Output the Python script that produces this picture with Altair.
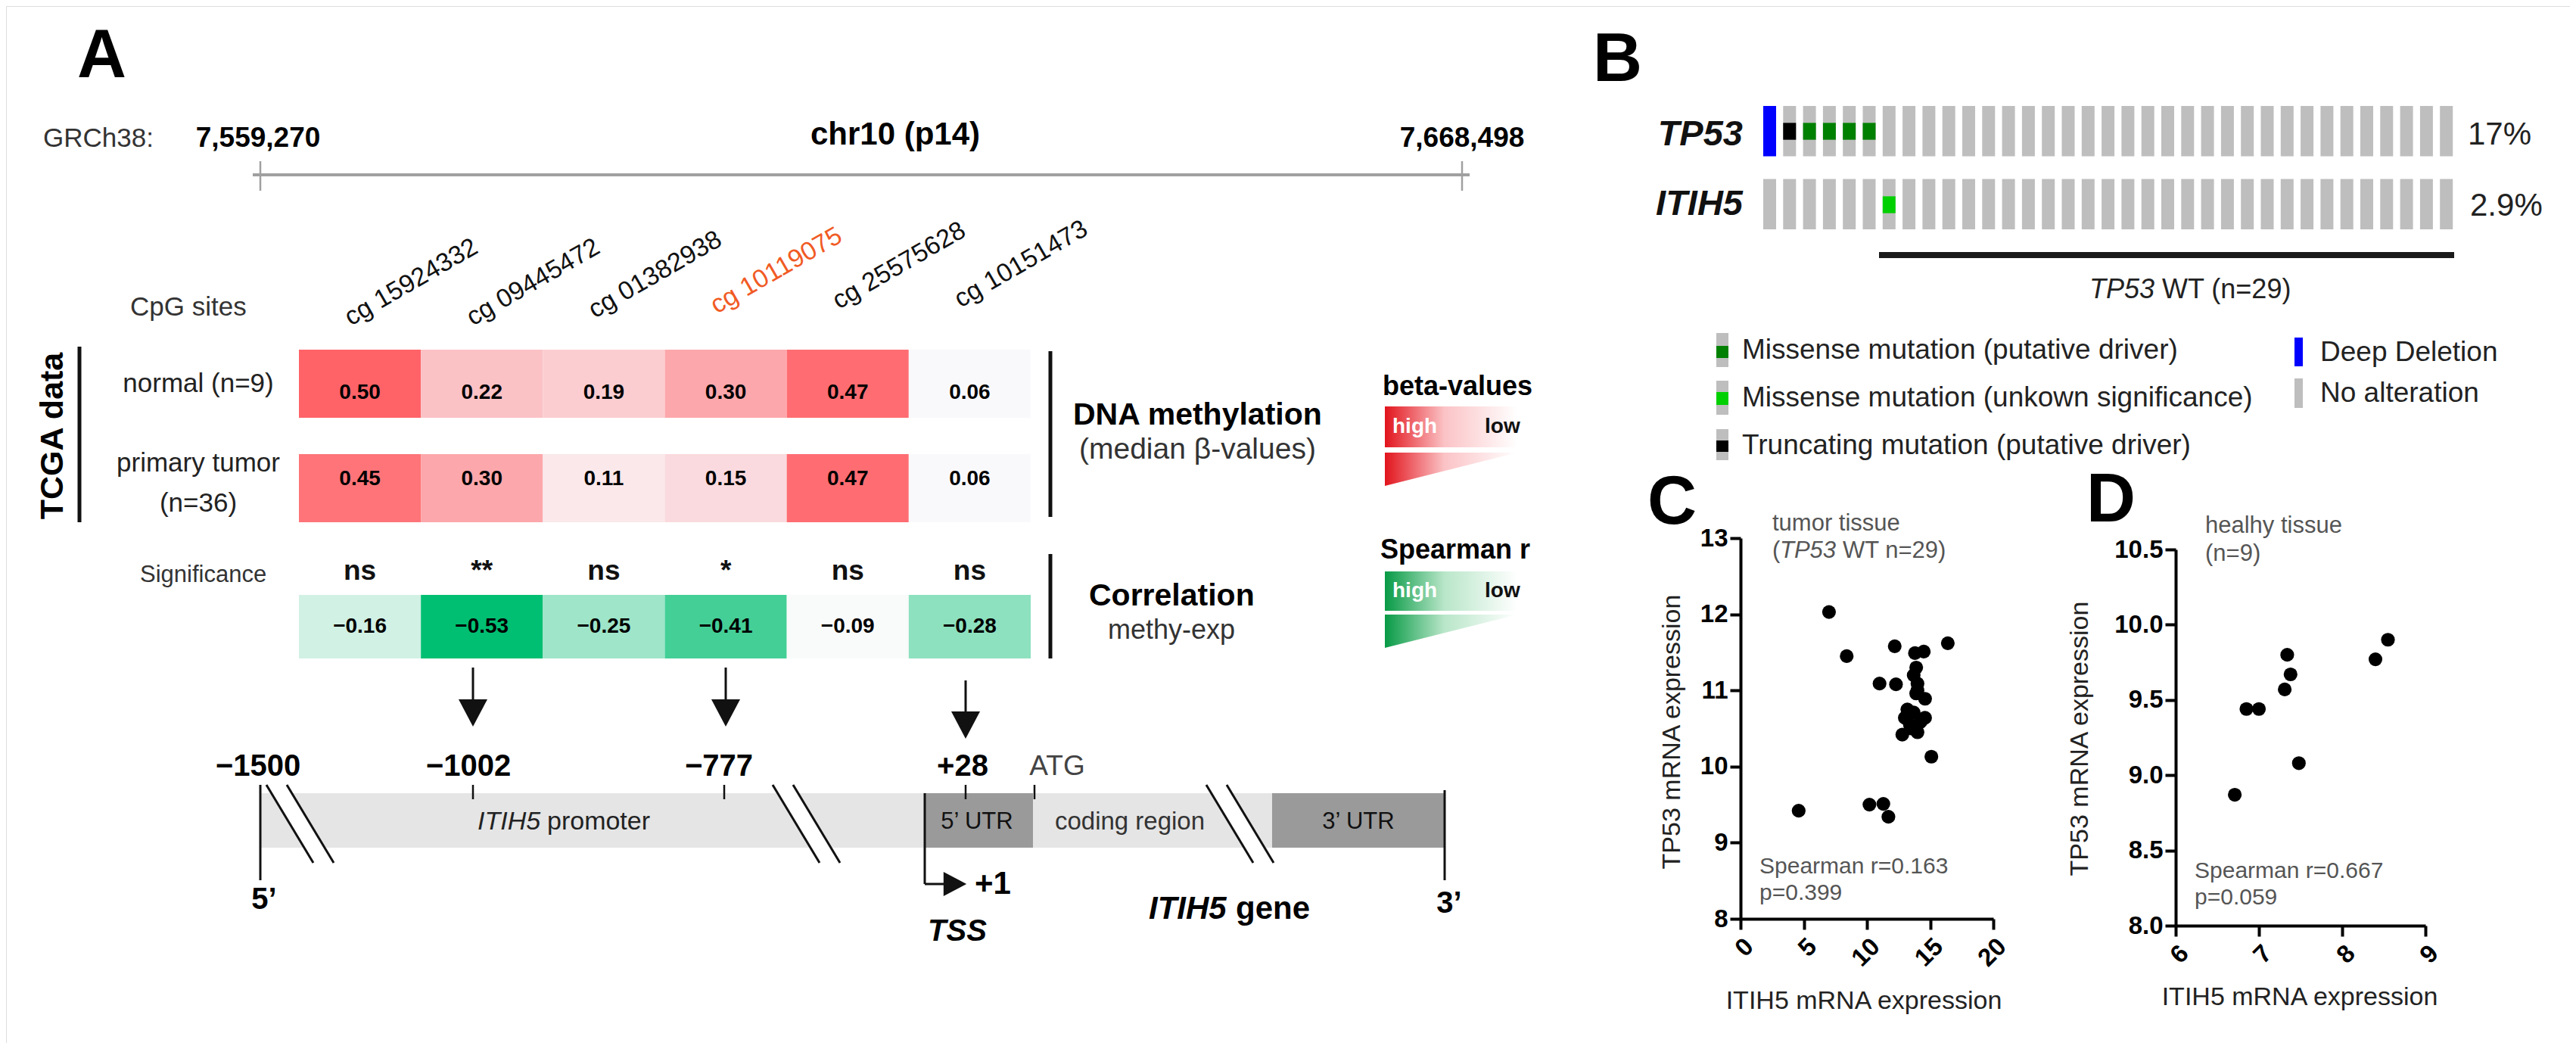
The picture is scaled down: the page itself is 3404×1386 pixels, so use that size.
import altair as alt
import pandas as pd

FONT = "Liberation Sans, Arial, Helvetica, sans-serif"
FULL_W, FULL_H = 3404, 1386
M = 8
W, H = FULL_W - 2 * M, FULL_H - 2 * M

# ------------------------------------------------------------------ data
sites = ["cg 15924332", "cg 09445472", "cg 01382938", "cg 10119075", "cg 25575628", "cg 10151473"]
highlighted_site = "cg 10119075"
beta_normal = [0.50, 0.22, 0.19, 0.30, 0.47, 0.06]
beta_tumor = [0.45, 0.30, 0.11, 0.15, 0.47, 0.06]
spearman_methy_exp = [-0.16, -0.53, -0.25, -0.41, -0.09, -0.28]
significance = ["ns", "**", "ns", "*", "ns", "ns"]
tcga_rows = ["normal (n=9)", "primary tumor (n=36)"]
promoter_positions = ["−1500", "−1002", "−777", "+28"]

onco_genes = ["TP53", "ITIH5"]
onco_n_samples = 35
onco_percent = ["17%", "2.9%"]
tp53_alterations = ["Deep Deletion", "Truncating mutation (putative driver)",
                    "Missense mutation (putative driver)", "Missense mutation (putative driver)",
                    "Missense mutation (putative driver)", "Missense mutation (putative driver)"]
itih5_alterations = {6: "Missense mutation (unkown significance)"}
alteration_colors = {
    "Missense mutation (putative driver)": "#008000",
    "Missense mutation (unkown significance)": "#00D000",
    "Truncating mutation (putative driver)": "#000000",
    "Deep Deletion": "#0000FF",
    "No alteration": "#BEBEBE",
}

tumor_itih5 = [7.0, 8.4, 12.2, 16.4, 13.8, 14.5, 13.9, 13.7, 11.0, 12.3, 14.0, 13.9, 14.6, 13.0, 13.7,
               14.6, 13.4, 12.8, 14.0, 14.2, 15.1, 4.6, 10.2, 11.3, 11.7, 13.2, 14.3, 13.5, 14.0]
tumor_tp53 = [12.03, 11.45, 11.58, 11.62, 11.49, 11.51, 11.30, 11.20, 11.09, 11.08, 11.09, 10.96, 10.89, 10.64, 10.71,
              10.64, 10.55, 10.42, 10.45, 10.58, 10.13, 9.42, 9.50, 9.51, 9.34, 10.75, 10.60, 10.50, 11.00]
healthy_itih5 = [6.71, 6.85, 7.00, 7.31, 7.38, 7.34, 7.48, 8.40, 8.55]
healthy_tp53 = [8.87, 9.44, 9.44, 9.57, 9.67, 9.80, 9.08, 9.77, 9.90]
tumor_ticks_x = [0, 5, 10, 15, 20]
tumor_ticks_y = [8, 9, 10, 11, 12, 13]
healthy_ticks_x = [6, 7, 8, 9]
healthy_ticks_y = [8.0, 8.5, 9.0, 9.5, 10.0, 10.5]


# ------------------------------------------------------------------ helpers
def CX():
    return alt.Scale(domain=[0, FULL_W], range=[-M, FULL_W - M], nice=False, zero=False)


def CY():
    return alt.Scale(domain=[0, FULL_H], range=[-M, FULL_H - M], nice=False, zero=False)


def text_layer(rows, size, weight="normal", style="normal", color="#000", align="left",
               angle=0, baseline="middle"):
    df = pd.DataFrame(rows, columns=["t", "x", "y"])
    return alt.Chart(df).mark_text(
        font=FONT, fontSize=size, fontWeight=weight, fontStyle=style, color=color,
        align=align, angle=angle, baseline=baseline
    ).encode(x=alt.X("x:Q", scale=CX(), axis=None),
             y=alt.Y("y:Q", scale=CY(), axis=None),
             text="t:N")


def rule_layer(rows, color, width, cap="butt"):
    df = pd.DataFrame(rows, columns=["x", "y", "x2", "y2"])
    return alt.Chart(df).mark_rule(color=color, strokeWidth=width, strokeCap=cap).encode(
        x=alt.X("x:Q", scale=CX(), axis=None), y=alt.Y("y:Q", scale=CY(), axis=None),
        x2="x2:Q", y2="y2:Q")


def rect_layer(rows):
    df = pd.DataFrame(rows, columns=["x", "y", "x2", "y2", "fill"])
    return alt.Chart(df).mark_rect().encode(
        x=alt.X("x:Q", scale=CX(), axis=None), y=alt.Y("y:Q", scale=CY(), axis=None),
        x2="x2:Q", y2="y2:Q", color=alt.Color("fill:N", scale=None))


def gradient(stops):
    return {"gradient": "linear", "x1": 0, "x2": 1, "y1": 0, "y2": 0,
            "stops": [{"offset": o, "color": c} for o, c in stops]}


def grad_rect(x0, y0, x1, y1, stops):
    df = pd.DataFrame({"x": [x0], "y": [y0], "x2": [x1], "y2": [y1]})
    return alt.Chart(df).mark_rect(fill=gradient(stops)).encode(
        x=alt.X("x:Q", scale=CX(), axis=None), y=alt.Y("y:Q", scale=CY(), axis=None),
        x2="x2:Q", y2="y2:Q")


def grad_triangle(x0, x1, ytop, ybot, stops):
    df = pd.DataFrame({"x": [x0, x1], "y": [ytop, ytop], "y2": [ybot, ytop]})
    return alt.Chart(df).mark_area(fill=gradient(stops), line=False).encode(
        x=alt.X("x:Q", scale=CX(), axis=None), y=alt.Y("y:Q", scale=CY(), axis=None),
        y2="y2:Q")


def symbol_layer(rows, path, size):
    df = pd.DataFrame(rows, columns=["x", "y"])
    return alt.Chart(df).mark_point(shape=path, size=size, filled=True, color="#111", opacity=1,
                                    strokeWidth=0).encode(
        x=alt.X("x:Q", scale=CX(), axis=None), y=alt.Y("y:Q", scale=CY(), axis=None))


layers = []

# ================================================================== Panel A
# chromosome header
layers.append(rule_layer([(334, 231, 1942, 231)], "#A0A0A0", 4))
layers.append(rule_layer([(344, 213, 344, 252), (1932, 213, 1932, 252)], "#A0A0A0", 2.5))
layers.append(text_layer([("A", 102, 75), ("B", 2105, 80), ("C", 2177, 665), ("D", 2757, 662)], 90, "bold"))
layers.append(text_layer([("GRCh38:", 57, 183)], 35, color="#333"))
layers.append(text_layer([("7,559,270", 341, 183), ("7,668,498", 1932, 183)], 37, "bold", align="center"))
layers.append(text_layer([("chr10 (p14)", 1183, 178)], 42, "bold", align="center"))
layers.append(text_layer([("CpG sites", 172, 406)], 35, color="#333"))

# CpG site labels (rotated)
site_scale = lambda: alt.Scale(domain=sites, range=[395 - M, 1362 - M], paddingInner=0, paddingOuter=0)
lab_df = pd.DataFrame({"site": sites,
                       "y": [424, 424, 414, 408, 402, 400],
                       "col": ["#F15A24" if s == highlighted_site else "#111" for s in sites]})
layers.append(alt.Chart(lab_df).mark_text(font=FONT, fontSize=34, angle=330, align="left",
                                          baseline="alphabetic", dx=-14).encode(
    x=alt.X("site:N", scale=site_scale(), axis=None),
    y=alt.Y("y:Q", scale=CY(), axis=None),
    text="site:N", color=alt.Color("col:N", scale=None)))

# methylation heatmap
meth_df = pd.DataFrame({"site": sites * 2,
                        "row": [tcga_rows[0]] * 6 + [tcga_rows[1]] * 6,
                        "beta": beta_normal + beta_tumor})
meth_df["label"] = meth_df["beta"].map(lambda v: f"{v:.2f}")
row_scale = lambda: alt.Scale(domain=tcga_rows, range=[462 - M, 690 - M], paddingInner=0.348, paddingOuter=0)
layers.append(alt.Chart(meth_df).mark_rect().encode(
    x=alt.X("site:N", scale=site_scale(), axis=None),
    y=alt.Y("row:N", scale=row_scale(), axis=None),
    color=alt.Color("beta:Q", scale=alt.Scale(domain=[0.06, 0.50], range=["#F9F9FC", "#FF6368"],
                                              interpolate="rgb"), legend=None)))
layers.append(alt.Chart(meth_df).mark_text(font=FONT, fontSize=28, fontWeight="bold", color="#000").encode(
    x=alt.X("site:N", scale=site_scale(), axis=None),
    y=alt.Y("row:N", scale=row_scale(), axis=None),
    text="label:N"))

# correlation row
corr_df = pd.DataFrame({"site": sites, "row": ["r"] * 6, "r": spearman_methy_exp, "sig": significance})
corr_df["label"] = corr_df["r"].map(lambda v: f"{v:.2f}".replace("-", "−"))
corr_scale = lambda: alt.Scale(domain=["r"], range=[786 - M, 870 - M], paddingInner=0, paddingOuter=0)
layers.append(alt.Chart(corr_df).mark_rect().encode(
    x=alt.X("site:N", scale=site_scale(), axis=None),
    y=alt.Y("row:N", scale=corr_scale(), axis=None),
    color=alt.Color("r:Q", scale=alt.Scale(domain=[-0.53, -0.09], range=["#00BF72", "#F9FAFA"],
                                           interpolate="rgb"), legend=None)))
layers.append(alt.Chart(corr_df).mark_text(font=FONT, fontSize=28, fontWeight="bold", color="#000").encode(
    x=alt.X("site:N", scale=site_scale(), axis=None),
    y=alt.Y("row:N", scale=corr_scale(), axis=None),
    text="label:N"))
sig_df = corr_df.assign(y=755)
layers.append(alt.Chart(sig_df).mark_text(font=FONT, fontSize=37, fontWeight="bold", color="#111").encode(
    x=alt.X("site:N", scale=site_scale(), axis=None),
    y=alt.Y("y:Q", scale=CY(), axis=None),
    text="sig:N"))

# labels around the heatmap
layers.append(text_layer([("TCGA data", 70, 576)], 43, "bold", align="center", angle=270))
layers.append(rule_layer([(105, 458, 105, 690), (1388, 464, 1388, 683), (1388, 732, 1388, 870)], "#111", 5))
layers.append(text_layer([(tcga_rows[0], 262, 507), ("primary tumor", 262, 612), ("(n=36)", 262, 665)],
                         35, color="#222", align="center"))
layers.append(text_layer([("Significance", 185, 760)], 31, color="#333"))
layers.append(text_layer([("DNA methylation", 1418, 549), ("Correlation", 1439, 788)], 41, "bold"))
layers.append(text_layer([("(median β-values)", 1426, 594)], 39, color="#333"))
layers.append(text_layer([("methy-exp", 1548, 833)], 36, color="#333", align="center"))

# colour keys
red_stops = [(0, "#E2141C"), (0.45, "#FBC3C6"), (1, "#FFFFFF")]
green_stops = [(0, "#079A45"), (0.45, "#B9E6C9"), (1, "#FFFFFF")]
layers.append(text_layer([("beta-values", 1827, 511), ("Spearman r", 1824, 727)], 36, "bold"))
layers.append(grad_rect(1830, 537, 2005, 591, red_stops))
layers.append(grad_triangle(1830, 2005, 598, 642, red_stops))
layers.append(grad_rect(1830, 755, 2005, 807, green_stops))
layers.append(grad_triangle(1830, 2005, 812, 856, green_stops))
layers.append(text_layer([("high", 1840, 564), ("high", 1840, 781)], 28, "bold", color="#FFFFFF"))
layers.append(text_layer([("low", 1962, 564), ("low", 1962, 781)], 28, "bold", color="#111"))

# arrows from correlation row to promoter positions
layers.append(rule_layer([(625, 882, 625, 930), (959, 882, 959, 930), (1276, 899, 1276, 945)], "#111", 3))
layers.append(symbol_layer([(625, 942), (959, 942), (1276, 958)], "M-1,-0.95L1,-0.95L0,0.95Z", 1444))

# gene structure
layers.append(rect_layer([(344, 1048, 1222, 1120, "#E5E5E5"), (1222, 1048, 1365, 1120, "#9A9A9A"),
                          (1365, 1048, 1681, 1120, "#E5E5E5"), (1681, 1048, 1909, 1120, "#9A9A9A")]))
breaks = [352, 1021, 1594]
layers.append(rule_layer([(b + 13.5, 1037, b + 75.5, 1140) for b in breaks], "#FFFFFF", 22))
layers.append(rule_layer([(b, 1037, b + 62, 1140) for b in breaks] +
                         [(b + 27, 1037, b + 89, 1140) for b in breaks], "#111", 3))
layers.append(rule_layer([(625, 1037, 625, 1056), (957, 1037, 957, 1056),
                          (1276, 1037, 1276, 1056), (1367, 1037, 1367, 1056)], "#111", 2.5))
layers.append(rule_layer([(344, 1037, 344, 1163), (1909, 1044, 1909, 1163),
                          (1222, 1048, 1222, 1168), (1222, 1168, 1252, 1168)], "#111", 3))
layers.append(symbol_layer([(1262, 1168)], "M-0.95,-1L0.95,0L-0.95,1Z", 1024))

layers.append(text_layer([(promoter_positions[0], 341, 1013), (promoter_positions[1], 619, 1013),
                          (promoter_positions[2], 950, 1013), (promoter_positions[3], 1272, 1013)],
                         40, "bold", align="center"))
layers.append(text_layer([("ATG", 1397, 1013)], 37, color="#444", align="center"))
layers.append(text_layer([("ITIH5", 631, 1086)], 34, style="italic", color="#222"))
layers.append(text_layer([("promoter", 723, 1086)], 34, color="#222"))
layers.append(text_layer([("5’ UTR", 1291, 1086), ("3’ UTR", 1795, 1086)], 31, color="#111", align="center"))
layers.append(text_layer([("coding region", 1493, 1086)], 33, color="#333", align="center"))
layers.append(text_layer([("5’", 349, 1189), ("3’", 1915, 1194)], 40, "bold", align="center"))
layers.append(text_layer([("+1", 1288, 1168)], 42, "bold"))
layers.append(text_layer([("TSS", 1265, 1231)], 40, "bold", "italic", align="center"))
layers.append(text_layer([("ITIH5", 1518, 1201)], 42, "bold", "italic"))
layers.append(text_layer([("gene", 1633, 1201)], 42, "bold"))

# ================================================================== Panel B (oncoprint)
samples = list(range(onco_n_samples))
onco_rows = []
for g in onco_genes:
    for s in samples:
        if g == "TP53" and s < len(tp53_alterations) and tp53_alterations[s] == "Deep Deletion":
            base = alteration_colors["Deep Deletion"]
        else:
            base = alteration_colors["No alteration"]
        onco_rows.append({"gene": g, "sample": s, "fill": base})
onco_df = pd.DataFrame(onco_rows)
mut_rows = []
for s, a in enumerate(tp53_alterations):
    if a != "Deep Deletion":
        mut_rows.append({"gene": "TP53", "sample": s, "fill": alteration_colors[a]})
for s, a in itih5_alterations.items():
    mut_rows.append({"gene": "ITIH5", "sample": s, "fill": alteration_colors[a]})
mut_df = pd.DataFrame(mut_rows)

sample_scale = lambda: alt.Scale(domain=samples, range=[2330 - M, 3241.2 - M], paddingInner=0.3536, paddingOuter=0)
layers.append(alt.Chart(onco_df).mark_rect().encode(
    x=alt.X("sample:O", scale=sample_scale(), axis=None),
    y=alt.Y("gene:N", scale=alt.Scale(domain=onco_genes, range=[140 - M, 303 - M], paddingInner=0.309, paddingOuter=0), axis=None),
    color=alt.Color("fill:N", scale=None)))
layers.append(alt.Chart(mut_df).mark_rect().encode(
    x=alt.X("sample:O", scale=sample_scale(), axis=None),
    y=alt.Y("gene:N", scale=alt.Scale(domain=onco_genes, range=[162.35 - M, 281.65 - M], paddingInner=0.77, paddingOuter=0), axis=None),
    color=alt.Color("fill:N", scale=None)))
layers.append(text_layer([(onco_genes[0], 2303, 178), (onco_genes[1], 2303, 270)], 47, "bold", "italic",
                         color="#111", align="right"))
layers.append(text_layer([(onco_percent[0], 3261, 178), (onco_percent[1], 3264, 272)], 42, color="#222"))
layers.append(rule_layer([(2483, 337, 3243, 337)], "#1A1A1A", 8))
layers.append(text_layer([("TP53", 2847, 383)], 36, style="italic", color="#222", align="right"))
layers.append(text_layer([("WT (n=29)", 2857, 383)], 36, color="#222"))

# legend
layers.append(rect_layer([
    (2268, 440, 2284, 485, alteration_colors["No alteration"]),
    (2268, 457, 2284, 473, alteration_colors["Missense mutation (putative driver)"]),
    (2268, 503, 2284, 548, alteration_colors["No alteration"]),
    (2268, 518, 2284, 535, alteration_colors["Missense mutation (unkown significance)"]),
    (2268, 567, 2284, 608, alteration_colors["No alteration"]),
    (2268, 582, 2284, 597, alteration_colors["Truncating mutation (putative driver)"]),
    (3032, 446, 3043, 484, alteration_colors["Deep Deletion"]),
    (3032, 500, 3043, 539, alteration_colors["No alteration"]),
]))
layers.append(text_layer([("Missense mutation (putative driver)", 2302, 463),
                          ("Missense mutation (unkown significance)", 2302, 526),
                          ("Truncating mutation (putative driver)", 2302, 589),
                          ("Deep Deletion", 3066, 466),
                          ("No alteration", 3066, 520)], 37, color="#222"))

# ================================================================== Panels C and D (scatter)
AX = dict(grid=False, title=None, domainColor="#000", domainWidth=4, tickColor="#000", tickWidth=4,
          tickSize=14, labelFont=FONT, labelFontSize=33, labelFontWeight="bold", labelColor="#000",
          labelOverlap=False)

c_df = pd.DataFrame({"itih5": tumor_itih5, "tp53": tumor_tp53})
layers.append(alt.Chart(c_df).mark_circle(size=330, color="#000", opacity=1).encode(
    x=alt.X("itih5:Q", scale=alt.Scale(domain=[0, 20], range=[2300 - M, 2634 - M], nice=False, zero=False),
            axis=alt.Axis(orient="bottom", offset=(1214 - M) - H, values=tumor_ticks_x, labelAngle=315,
                          labelPadding=6, format="d", **AX)),
    y=alt.Y("tp53:Q", scale=alt.Scale(domain=[8, 13], range=[1214 - M, 711 - M], nice=False, zero=False),
            axis=alt.Axis(orient="left", offset=-(2300 - M), values=tumor_ticks_y, labelPadding=3,
                          format="d", **AX))))

d_df = pd.DataFrame({"itih5": healthy_itih5, "tp53": healthy_tp53})
layers.append(alt.Chart(d_df).mark_circle(size=330, color="#000", opacity=1).encode(
    x=alt.X("itih5:Q", scale=alt.Scale(domain=[6, 9], range=[2875 - M, 3205 - M], nice=False, zero=False),
            axis=alt.Axis(orient="bottom", offset=(1223 - M) - H, values=healthy_ticks_x, labelAngle=315,
                          labelPadding=6, format="d", **AX)),
    y=alt.Y("tp53:Q", scale=alt.Scale(domain=[8.0, 10.5], range=[1223 - M, 726 - M], nice=False, zero=False),
            axis=alt.Axis(orient="left", offset=-(2875 - M), values=healthy_ticks_y, labelPadding=3,
                          format=".1f", **AX))))

layers.append(text_layer([("tumor tissue", 2342, 692), ("(", 2342, 728), ("healhy tissue", 2914, 695),
                          ("(n=9)", 2914, 732)], 31, color="#555"))
layers.append(text_layer([("TP53", 2352, 728)], 31, style="italic", color="#555"))
layers.append(text_layer([("WT n=29)", 2435, 728)], 31, color="#555"))
layers.append(text_layer([("Spearman r=0.163", 2325, 1145), ("p=0.399", 2325, 1180),
                          ("Spearman r=0.667", 2900, 1151), ("p=0.059", 2900, 1186)], 30, color="#555"))
layers.append(text_layer([("ITIH5 mRNA expression", 2463, 1323), ("ITIH5 mRNA expression", 3039, 1318)],
                         34, color="#222", align="center"))
layers.append(text_layer([("TP53 mRNA expression", 2210, 967), ("TP53 mRNA expression", 2749, 976)],
                         34, color="#222", align="center", angle=270))

chart = alt.layer(*layers).resolve_scale(x="independent", y="independent", color="independent").properties(
    width=W, height=H, autosize=alt.AutoSizeParams(type="none"), padding=0
).configure_view(strokeWidth=0).configure(background="#FFFFFF")

chart.save("out.html", embed_options={"renderer": "svg", "actions": False})
